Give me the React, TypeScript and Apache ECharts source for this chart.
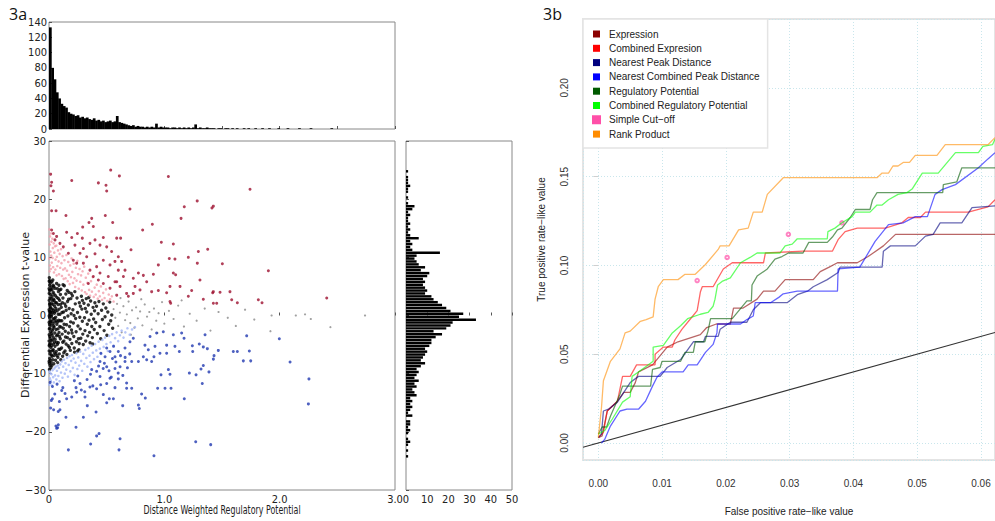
import React, { useEffect, useRef } from "react";
import * as echarts from "echarts";

// ---------- 3a : histograms ----------
const topHistBinWidth = 0.02;
const topHistCounts = [
  133, 80, 65, 48, 40, 33, 30, 28, 22, 20,
  19, 17, 18, 15, 16, 14, 15, 13, 12, 14,
  11, 12, 10, 11, 9, 10, 11, 9, 10, 17,
  9, 8, 7, 6, 5, 4, 5, 3, 4, 3,
  3, 2, 3, 2, 3, 2, 7, 2, 3, 2,
  2, 2, 1, 2, 2, 1, 2, 1, 2, 1,
  2, 1, 2, 6, 1, 2, 1, 1, 2, 1,
  1, 1, 0, 1, 1, 0, 1, 1, 0, 1,
  0, 1, 0, 0, 1, 0, 1, 0, 0, 1,
  0, 0, 1, 0, 0, 1, 0, 0, 0, 1,
  0, 0, 0, 1, 0, 0, 0, 0, 1, 0,
  0, 0, 0, 1, 0, 0, 0, 0, 0, 0,
  0, 0, 1, 0, 0, 0, 0, 0, 0, 0,
];
const rightHistStart = -25;
const rightHistBinWidth = 0.5;
const rightHistCounts = [
  0, 1, 0, 1, 0, 1, 2, 1, 0, 1,
  2, 1, 2, 2, 0, 3, 1, 2, 3, 2,
  3, 2, 5, 4, 3, 5, 4, 6, 4, 5,
  6, 5, 7, 9, 7, 8, 9, 10, 9, 11,
  12, 12, 14, 17, 13, 19, 21, 22, 33, 25,
  27, 21, 19, 17, 15, 13, 12, 9, 10, 9,
  8, 9, 8, 10, 11, 7, 9, 6, 5, 4,
  5, 16, 3, 2, 3, 2, 6, 2, 1, 2,
  1, 2, 1, 1, 2, 1, 3, 4, 1, 0,
  1, 0, 1, 1, 2, 1, 1, 1, 0, 1,
];

// ---------- 3a : scatter ----------
const scatterBlack = [
  [0.003,6.5],[0.006,5.2],[0.002,3.8],[0.008,2.1],[0.004,0.7],[0.011,-0.9],[0.003,-2.3],[0.007,-3.6],[0.012,-4.8],[0.002,-6.1],
  [0.006,-7.4],[0.009,-8.6],[0.004,-9.3],[0.015,4.4],[0.018,2.9],[0.014,1.3],[0.02,-0.2],[0.017,-1.7],[0.022,-3.1],[0.016,-5.5],
  [0.021,-6.8],[0.019,-8.1],[0.025,5.8],[0.027,3.3],[0.024,0.1],[0.029,-2.6],[0.031,-4.2],[0.026,-7.0],[0.033,6.1],[0.036,4.0],
  [0.034,1.9],[0.038,-0.6],[0.035,-1.4],[0.04,-3.8],[0.037,-5.9],[0.042,-8.3],[0.045,2.6],[0.047,0.4],[0.044,-2.0],[0.048,-4.6],
  [0.046,-6.4],[0.01,1.5],[0.013,-2.8],[0.028,1.1],[0.039,2.8],[0.05,-1.1],[0.005,-0.4],[0.02,4.9],[0.032,-6.0],[0.041,5.0],
  [0.052,4.7],[0.055,2.2],[0.058,-0.3],[0.061,-2.4],[0.054,-4.1],[0.063,-6.2],[0.057,-7.7],[0.066,5.5],[0.069,3.1],[0.071,0.8],
  [0.068,-1.5],[0.074,-3.3],[0.072,-5.0],[0.077,-7.2],[0.079,1.9],[0.082,4.1],[0.084,-0.8],[0.087,-2.9],[0.081,-4.7],[0.089,-6.6],
  [0.092,2.6],[0.095,0.2],[0.093,-1.9],[0.098,-4.0],[0.096,-5.8],[0.06,1.2],[0.075,-8.1],[0.086,5.2],[0.099,3.6],[0.065,-3.5],
  [0.103,4.5],[0.107,1.4],[0.111,-0.9],[0.114,-3.2],[0.109,-5.6],[0.118,-7.0],[0.121,3.0],[0.126,0.6],[0.124,-2.2],[0.129,-4.4],
  [0.133,5.1],[0.137,2.0],[0.135,-0.4],[0.141,-2.7],[0.139,-6.1],[0.146,3.7],[0.149,0.9],[0.152,-1.6],[0.148,-4.9],[0.155,-6.7],
  [0.161,2.4],[0.164,-0.1],[0.168,-3.0],[0.166,-5.2],[0.172,4.0],[0.175,1.2],[0.178,-1.9],[0.182,-4.1],[0.185,-6.0],[0.189,2.9],
  [0.192,0.3],[0.195,-2.5],[0.198,-4.8],[0.116,2.2],[0.143,-3.7],[0.158,4.3],[0.177,-5.5],[0.193,3.8],[0.128,-6.4],[0.102,-7.6],
  [0.203,3.4],[0.207,1.0],[0.211,-1.3],[0.215,-3.6],[0.219,-5.6],[0.224,4.1],[0.228,2.0],[0.231,-0.5],[0.235,-2.8],[0.238,-4.5],
  [0.243,3.0],[0.247,0.5],[0.251,-1.8],[0.255,-4.0],[0.259,-5.9],[0.263,2.2],[0.267,-0.3],[0.271,-2.3],[0.276,-3.9],[0.281,3.3],
  [0.285,1.1],[0.289,-1.0],[0.293,-3.2],[0.297,-5.0],[0.222,-6.3],[0.249,-6.1],[0.272,1.6],[0.29,2.6],[0.217,0.0],[0.262,-4.8],
  [0.303,2.1],[0.308,-0.4],[0.312,-2.6],[0.318,-4.4],[0.323,2.9],[0.327,0.6],[0.332,-1.5],[0.336,-3.5],[0.341,1.8],[0.347,-0.8],
  [0.352,-2.9],[0.356,-4.7],[0.361,2.5],[0.366,0.2],[0.371,-1.9],[0.376,-3.8],[0.382,1.4],[0.387,-0.6],[0.392,-2.4],[0.398,2.2],
  [0.315,1.2],[0.345,3.1],[0.379,-4.9],[0.395,0.8],
  [0.405,-1.2],[0.412,1.6],[0.419,-3.1],[0.426,0.3],[0.433,2.4],[0.441,-1.9],[0.448,-4.0],[0.456,0.9],[0.463,-0.7],[0.471,2.0],
  [0.478,-2.6],[0.486,-0.2],[0.493,1.3],[0.502,-3.4],[0.51,0.6],[0.518,-1.5],[0.527,2.3],[0.535,-0.9],[0.544,0.1],[0.552,-2.2],
  [0.001,4.6],[0.001,1.0],[0.001,-1.2],[0.001,-4.4],[0.001,-7.9],[0.002,5.9],[0.002,2.6],[0.002,-0.1],[0.002,-3.3],[0.002,-5.2],
  [0.003,-8.2],[0.005,4.3],[0.005,1.9],[0.005,-1.6],[0.005,-5.0],[0.007,6.0],[0.007,0.2],[0.008,-2.2],[0.008,-6.6],[0.009,3.0],
  [0.01,-3.9],[0.011,5.6],[0.011,-7.7],[0.012,0.6],[0.013,3.6],[0.014,-1.2],[0.015,-6.2],[0.016,-9.0],[0.018,0.6],[0.018,-4.3],
  [0.021,2.0],[0.023,-1.0],[0.023,-5.2],[0.025,-8.6],[0.027,4.5],[0.028,-3.4],[0.03,0.5],[0.031,2.5],[0.033,-7.6],[0.034,-2.3],
  [0.036,5.2],[0.038,-4.9],[0.039,0.9],[0.041,-1.8],[0.043,3.7],[0.044,-6.9],[0.046,-0.5],[0.049,1.6],[0.05,-3.0],[0.052,-5.3],
  [0.053,0.7],[0.056,3.4],[0.059,-6.6],[0.062,-0.9],[0.064,2.2],[0.067,-4.6],[0.07,-6.9],[0.073,4.6],[0.076,-1.1],[0.078,-2.3],
  [0.08,0.2],[0.083,2.9],[0.085,-5.8],[0.088,1.1],[0.091,-3.6],[0.094,4.4],[0.097,-0.9],[0.1,1.9],[0.105,-2.0],[0.113,0.5],
  [0.119,-4.6],[0.122,5.3],[0.131,-1.5],[0.145,1.6],[0.16,-3.8],[0.17,2.8],[0.188,-1.1],[0.2,-3.0],
];
const scatterGray = [
  [0.56,1.1],[0.575,-0.4],[0.59,2.0],[0.6,-1.8],[0.615,0.5],[0.63,-2.9],[0.645,1.6],[0.66,-0.8],[0.675,0.2],[0.69,2.4],
  [0.705,-1.3],[0.72,0.9],[0.74,-2.1],[0.755,1.4],[0.77,-0.5],[0.79,0.7],[0.81,-1.7],[0.83,1.9],[0.85,-0.2],[0.87,0.6],
  [0.89,-2.4],[0.91,1.2],[0.93,-0.9],[0.95,0.4],[0.98,2.3],[1.0,-1.4],[0.62,3.0],[0.71,-3.3],[0.8,2.8],[0.94,-3.0],
  [1.04,0.8],[1.08,-0.6],[1.12,1.7],[1.17,-1.9],[1.22,0.3],[1.28,-0.9],[1.35,1.2],[1.4,-2.6],[1.47,0.6],[1.55,-0.4],
  [1.62,-1.8],[1.7,1.0],[1.78,-0.7],[1.93,0.0],[2.14,0.0],[2.22,0.2],[2.27,-0.6],[2.44,-2.0],[2.74,0.0],[1.92,-2.7],[1.15,2.6],
];
const scatterPink = [
  [0.004,14.8],[0.009,13.6],[0.006,12.2],[0.012,11.0],[0.003,9.8],[0.008,8.6],[0.005,7.6],[0.017,14.1],[0.021,12.7],[0.019,10.3],
  [0.024,9.1],[0.016,8.0],[0.029,13.2],[0.033,11.6],[0.031,9.9],[0.036,8.3],[0.041,12.4],[0.046,10.8],[0.043,7.4],[0.052,11.9],
  [0.057,9.6],[0.055,7.9],[0.063,12.0],[0.068,10.1],[0.072,8.5],[0.066,6.9],[0.078,11.2],[0.083,9.3],[0.087,7.1],[0.092,10.6],
  [0.097,8.2],[0.104,11.4],[0.108,9.0],[0.112,6.8],[0.118,10.2],[0.123,7.9],[0.127,6.3],[0.134,9.5],[0.139,8.1],[0.144,6.4],
  [0.151,10.4],[0.156,7.7],[0.162,5.9],[0.167,9.2],[0.173,7.0],[0.179,5.4],[0.184,8.6],[0.19,6.6],[0.196,9.8],[0.202,7.5],
  [0.208,5.6],[0.214,8.9],[0.221,6.4],[0.227,4.9],[0.233,8.2],[0.239,6.0],[0.246,9.4],[0.252,7.1],[0.258,4.6],[0.265,8.0],
  [0.271,5.8],[0.278,6.9],[0.284,4.3],[0.291,7.6],[0.298,5.3],[0.305,8.4],[0.312,4.0],[0.319,6.5],[0.326,3.7],[0.333,5.6],
  [0.34,7.2],[0.348,4.4],[0.356,3.4],[0.364,5.9],[0.372,4.1],[0.38,6.6],[0.388,3.2],[0.396,4.8],[0.405,3.6],[0.414,5.3],
  [0.423,2.9],[0.432,4.2],[0.441,3.3],[0.45,5.0],[0.46,2.7],[0.47,3.9],[0.482,3.0],[0.494,4.5],[0.506,2.5],[0.518,3.6],
  [0.53,2.8],[0.545,3.3],[0.56,2.4],
];
const scatterDarkRed = [
  [0.014,24.3],[0.023,22.9],[0.017,22.3],[0.038,21.4],[0.023,18.0],[0.061,18.0],[0.197,23.2],[0.428,22.8],[0.494,22.4],[0.5,21.4],
  [0.535,25.0],[0.61,24.0],[1.035,23.9],[1.743,21.7],[0.147,17.2],[0.488,17.2],[0.702,18.3],[1.285,19.7],[1.173,18.7],[1.413,18.5],
  [1.425,18.8],[1.145,16.7],[0.37,16.7],[0.347,16.0],[0.552,16.0],[0.292,15.2],[0.384,15.3],[0.812,14.7],[0.896,15.7],[0.471,13.4],
  [0.587,13.3],[0.621,13.3],[0.153,14.3],[0.197,13.4],[0.246,14.1],[0.289,13.3],[0.399,13.0],[0.974,12.6],[1.078,12.3],[0.711,11.3],
  [1.376,11.4],[1.295,11.0],[1.208,10.0],[1.043,9.8],[1.092,9.7],[1.286,9.0],[1.503,8.9],[0.948,8.7],[1.902,7.7],[1.078,7.3],
  [1.098,7.0],[0.818,6.9],[0.905,7.1],[1.309,6.1],[1.136,5.0],[1.237,4.3],[1.049,5.0],[1.02,3.9],[0.948,4.3],[0.89,4.1],
  [1.419,3.9],[1.425,4.1],[1.483,4.0],[1.569,4.1],[1.584,2.7],[1.633,2.2],[1.815,2.7],[1.847,2.2],[2.408,3.0],[1.208,3.3],
  [1.338,2.8],[1.425,2.1],[1.454,2.1],[1.049,2.4],[1.055,2.1],
  [0.269,10.7],[0.327,10.1],[0.211,9.5],[0.298,9.0],[0.355,7.8],[0.413,8.4],[0.442,7.3],[0.529,8.7],[0.572,9.3],[0.601,10.1],
  [0.63,9.3],[0.659,7.8],[0.587,5.8],[0.616,5.0],[0.673,3.8],[0.731,3.8],[0.746,5.0],[0.789,4.4],[0.514,6.7],[0.471,5.5],
  [0.428,6.1],[0.384,6.7],[0.341,5.5],[0.543,11.0],[0.5,11.8],[0.442,12.1],[0.355,12.4],[0.225,12.1],[0.124,11.8],[0.095,12.4],
  [0.066,13.6],[0.038,14.1],[0.023,14.7],[0.052,13.0],[0.587,3.5],[0.688,3.3],[0.775,7.3],[0.847,5.8],[0.731,6.4],[0.645,6.7],
  [0.24,9.0],[0.168,10.7],[0.298,11.5],[0.399,10.6],[0.471,9.5],[0.572,5.8],[0.529,4.7],[0.601,7.8],
];
const scatterLightBlue = [
  [0.004,-9.6],[0.008,-10.8],[0.003,-11.9],[0.012,-9.9],[0.016,-11.2],[0.021,-10.1],[0.026,-12.0],[0.031,-9.4],[0.036,-10.6],[0.042,-11.5],
  [0.047,-9.1],[0.053,-10.3],[0.058,-8.8],[0.064,-11.0],[0.069,-9.5],[0.075,-8.6],[0.081,-10.4],[0.086,-9.0],[0.092,-11.3],[0.098,-8.4],
  [0.104,-9.8],[0.11,-7.9],[0.117,-10.7],[0.123,-8.8],[0.13,-7.6],[0.137,-10.0],[0.143,-8.2],[0.15,-9.3],[0.157,-7.3],[0.164,-10.5],
  [0.171,-8.5],[0.178,-7.0],[0.185,-9.6],[0.192,-7.8],[0.199,-6.8],[0.207,-9.0],[0.214,-7.4],[0.222,-10.2],[0.23,-8.1],[0.238,-6.5],
  [0.246,-9.2],[0.254,-7.2],[0.262,-8.6],[0.27,-6.2],[0.279,-7.8],[0.288,-9.5],[0.297,-6.6],[0.306,-8.3],[0.315,-5.9],[0.324,-7.3],
  [0.333,-8.8],[0.342,-5.6],[0.351,-6.9],[0.36,-8.0],[0.37,-5.2],[0.38,-6.4],[0.39,-7.5],[0.4,-4.9],[0.41,-6.0],[0.42,-7.1],
  [0.43,-4.5],[0.441,-5.7],[0.452,-6.6],[0.463,-4.2],[0.474,-5.4],[0.486,-3.8],[0.498,-4.9],[0.51,-6.1],[0.522,-3.5],[0.534,-4.6],
  [0.547,-3.2],[0.56,-5.2],[0.573,-3.9],[0.586,-2.9],[0.6,-4.4],[0.615,-3.4],[0.63,-2.6],[0.646,-3.8],[0.662,-2.9],[0.68,-2.2],
  [0.7,-3.3],[0.72,-2.4],[0.745,-2.0],
];
const scatterDarkBlue = [
  [1.714,-3.5],[1.997,-4.0],[2.09,-8.0],[2.254,-10.9],[2.249,-15.2],[1.749,-7.8],[1.685,-7.8],[1.598,-6.2],[1.633,-6.2],[1.737,-6.1],
  [1.468,-6.0],[1.373,-5.7],[1.338,-5.4],[1.303,-4.9],[1.243,-5.2],[1.246,-6.2],[1.425,-7.5],[1.431,-6.9],[1.338,-8.6],[1.318,-9.2],
  [1.387,-9.7],[1.329,-11.7],[1.275,-10.2],[1.217,-9.9],[1.173,-14.3],[1.058,-12.5],[1.006,-12.5],[0.942,-12.5],[0.971,-10.2],[1.035,-9.3],
  [1.049,-10.1],[1.272,-21.7],[1.402,-22.2],[0.91,-24.1],[0.607,-23.1],[0.616,-21.2],[0.361,-22.1],[0.413,-20.7],[0.434,-20.3],[0.234,-19.2],
  [0.168,-23.1],[0.066,-19.4],[0.081,-18.8],[0.147,-17.5],[0.298,-17.5],[0.408,-16.6],[0.775,-15.4],[0.783,-16.0],[0.835,-14.2],[0.803,-13.5],
  [0.639,-15.5],[0.5,-15.0],[0.523,-14.3],[0.558,-14.3],[0.471,-13.6],[0.332,-15.5],[0.312,-14.0],[0.197,-14.0],[0.153,-14.3],[0.029,-14.3],
  [0.014,-15.9],[0.095,-16.2],[0.11,-12.9],[0.139,-13.4],[0.234,-12.4],[0.269,-11.7],[0.355,-12.3],[0.413,-12.6],[0.448,-11.9],[0.5,-11.7],
  [0.572,-12.4],[0.673,-12.5],[0.717,-12.5],[0.673,-11.6],[0.601,-10.9],[0.529,-10.8],[0.442,-10.5],[0.413,-9.6],[0.37,-9.3],[0.5,-8.8],
  [0.572,-9.1],[0.616,-8.8],[0.659,-7.9],[0.717,-7.9],[0.775,-7.9],[0.818,-7.1],[0.847,-7.6],[0.89,-7.9],[0.91,-7.1],[0.962,-6.5],
  [1.02,-6.5],[0.861,-5.9],[0.832,-5.1],[0.919,-5.3],[1.02,-5.1],[1.092,-5.3],[1.13,-6.2],[1.171,-3.9],[1.078,-3.3],[0.991,-2.8],
  [0.933,-3.0],[0.876,-3.6],[1.15,-3.0],[1.353,-3.3],[0.731,-3.9],[0.702,-4.5],[0.659,-5.6],[0.601,-6.2],[0.572,-7.1],[0.529,-6.2],
  [0.486,-7.1],[0.442,-7.9],[0.45,-6.5],[0.48,-8.2],[0.52,-9.5],[0.55,-7.4],[0.58,-8.0],[0.6,-9.9],[0.62,-6.9],[0.64,-10.3],
  [0.66,-7.2],[0.5,-5.6],[0.54,-10.6],[0.47,-9.1],[0.43,-8.7],[0.56,-5.3],[0.68,-9.0],[0.7,-6.6],[0.22,-11.2],[0.25,-10.4],
  [0.28,-12.8],[0.33,-11.0],[0.36,-10.1],[0.38,-12.1],[0.31,-13.1],[0.24,-13.2],[0.01,-11.5],[0.03,-12.2],[0.05,-13.5],[0.02,-14.6],
  [0.07,-11.8],[0.09,-14.8],[0.12,-12.4],[0.04,-16.2],[0.08,-16.5],[0.06,-19.0],[0.075,-19.3],
];

// ---------- 3b : ROC-like curves ----------
const seriesNames = [
  "Expression", "Combined Expresion", "Nearest Peak Distance", "Nearest Combined Peak Distance",
  "Regulatory Potential", "Combined Regulatory Potential", "Simple Cut\u2212off", "Rank Product",
];
const seriesColors = ["#8B0000", "#FF0000", "#00007F", "#0000FF", "#005A00", "#00FF00", "#FF4FA8", "#FF8C00"];

const expression = [
  [0,0.003],[0.0006,0.004],[0.0014,0.018],[0.003,0.0235],[0.004,0.0285],[0.005,0.0285],[0.0058,0.034],[0.0063,0.04],[0.0085,0.044],[0.0108,0.054],
  [0.0125,0.057],[0.016,0.061],[0.017,0.065],[0.0185,0.067],[0.0207,0.067],[0.0212,0.076],[0.0227,0.076],[0.0249,0.081],[0.0259,0.0855],[0.0277,0.0855],
  [0.0293,0.092],[0.0337,0.092],[0.0348,0.0965],[0.0362,0.099],[0.0375,0.1015],[0.0406,0.1015],[0.0423,0.105],[0.0431,0.107],[0.0447,0.111],[0.0466,0.1175],
  [0.0622,0.1175],
];
const combinedExpression = [
  [0,0.003],[0.0008,0.006],[0.0014,0.018],[0.003,0.0235],[0.0038,0.0375],[0.005,0.0375],[0.006,0.044],[0.0089,0.044],[0.0089,0.05],[0.0102,0.054],
  [0.0116,0.054],[0.012,0.058],[0.0131,0.064],[0.0144,0.0697],[0.0155,0.0745],[0.016,0.085],[0.0163,0.088],[0.018,0.088],[0.0196,0.098],[0.021,0.1015],
  [0.0259,0.1015],[0.0262,0.107],[0.0321,0.108],[0.0367,0.108],[0.0376,0.1145],[0.0387,0.119],[0.0406,0.121],[0.045,0.121],[0.0476,0.124],[0.0486,0.127],
  [0.0505,0.127],[0.0513,0.13],[0.058,0.13],[0.0611,0.133],[0.0622,0.137],
];
const nearestPeak = [
  [0,0.003],[0.0005,0.005],[0.0008,0.018],[0.0016,0.019],[0.003,0.023],[0.004,0.0285],[0.005,0.034],[0.0063,0.0375],[0.0097,0.0375],[0.0108,0.0425],
  [0.0129,0.047],[0.0149,0.057],[0.0165,0.057],[0.0168,0.06],[0.0188,0.06],[0.0191,0.064],[0.0207,0.068],[0.0233,0.068],[0.0243,0.075],[0.0254,0.079],
  [0.0296,0.079],[0.0312,0.0835],[0.0328,0.0855],[0.0337,0.088],[0.0359,0.092],[0.0376,0.096],[0.0379,0.099],[0.0445,0.099],[0.0447,0.108],[0.0458,0.111],
  [0.0497,0.111],[0.0513,0.1165],[0.0525,0.1175],[0.0536,0.124],[0.057,0.124],[0.0586,0.1325],[0.0622,0.1335],
];
const nearestCombinedPeak = [
  [0.0005,0],[0.001,0.002],[0.0019,0.0095],[0.0034,0.018],[0.0045,0.019],[0.0063,0.019],[0.0074,0.0235],[0.0085,0.032],[0.0092,0.037],[0.01,0.04],
  [0.0133,0.04],[0.0141,0.044],[0.0155,0.044],[0.0168,0.051],[0.018,0.0555],[0.0186,0.062],[0.0187,0.067],[0.0223,0.067],[0.0233,0.0695],[0.0243,0.0715],
  [0.0246,0.079],[0.027,0.079],[0.0283,0.082],[0.029,0.084],[0.0312,0.0855],[0.0375,0.0855],[0.0376,0.098],[0.041,0.099],[0.0434,0.1135],[0.0445,0.1185],
  [0.0455,0.123],[0.0478,0.124],[0.0497,0.1275],[0.0516,0.1275],[0.0528,0.14],[0.0539,0.1427],[0.056,0.1455],[0.0596,0.155],[0.0611,0.16],[0.0622,0.1635],
];
const regulatoryPotential = [
  [0,0.005],[0.0006,0.009],[0.0013,0.009],[0.0019,0.015],[0.0034,0.0275],[0.0038,0.032],[0.0082,0.032],[0.0085,0.0415],[0.0097,0.0425],[0.01,0.046],
  [0.0129,0.046],[0.0136,0.051],[0.0149,0.051],[0.0152,0.057],[0.0167,0.057],[0.0172,0.063],[0.0176,0.07],[0.021,0.07],[0.0233,0.08],[0.024,0.08],
  [0.0241,0.089],[0.0249,0.094],[0.0265,0.098],[0.0277,0.1035],[0.0288,0.105],[0.0298,0.107],[0.0321,0.107],[0.033,0.113],[0.0359,0.113],[0.0367,0.116],
  [0.0375,0.12],[0.0382,0.121],[0.0395,0.127],[0.0403,0.1315],[0.0426,0.1315],[0.043,0.137],[0.0437,0.141],[0.054,0.141],[0.0541,0.1455],[0.0562,0.147],
  [0.057,0.155],[0.0622,0.155],
];
const combinedRegulatoryPotential = [
  [0,0.005],[0.001,0.007],[0.0022,0.0135],[0.0038,0.023],[0.005,0.026],[0.0053,0.0375],[0.0063,0.04],[0.0086,0.046],[0.0086,0.054],[0.0102,0.055],
  [0.0116,0.062],[0.0129,0.066],[0.014,0.07],[0.016,0.0725],[0.0172,0.0735],[0.018,0.077],[0.0183,0.081],[0.0187,0.089],[0.0194,0.091],[0.0207,0.093],
  [0.0223,0.1015],[0.0238,0.1045],[0.0249,0.107],[0.0285,0.107],[0.0293,0.111],[0.0304,0.112],[0.0312,0.115],[0.0359,0.115],[0.036,0.119],[0.0371,0.121],
  [0.0382,0.124],[0.0398,0.1275],[0.0403,0.13],[0.0426,0.13],[0.0437,0.134],[0.0445,0.134],[0.0455,0.137],[0.047,0.14],[0.0484,0.141],[0.0492,0.143],
  [0.0508,0.152],[0.0533,0.152],[0.056,0.1635],[0.0596,0.1635],[0.0603,0.167],[0.0618,0.168],[0.0622,0.171],
];
const simpleCutoffX = [0.0155, 0.0202, 0.0298, 0.0382];
const simpleCutoffY = [0.0915, 0.1045, 0.1175, 0.124];
const rankProduct = [
  [0,0.003],[0.0005,0.02],[0.0008,0.035],[0.0019,0.046],[0.0034,0.053],[0.0042,0.062],[0.005,0.063],[0.0066,0.0685],[0.0075,0.0695],[0.0086,0.071],
  [0.0089,0.081],[0.0094,0.088],[0.0102,0.092],[0.0125,0.092],[0.0136,0.095],[0.0152,0.095],[0.0168,0.1005],[0.0188,0.109],[0.0191,0.111],[0.0205,0.111],
  [0.022,0.12],[0.0235,0.121],[0.0243,0.13],[0.0257,0.13],[0.0265,0.14],[0.029,0.1494],[0.0437,0.1494],[0.0445,0.152],[0.0455,0.152],[0.0462,0.156],
  [0.047,0.156],[0.0478,0.158],[0.0488,0.158],[0.0497,0.162],[0.0531,0.162],[0.0544,0.168],[0.0611,0.168],[0.0622,0.172],
];
const diagonalX = [-0.0024, 0.0622];

const FONT_A = "'DejaVu Sans Condensed','Liberation Sans Narrow','DejaVu Sans',sans-serif";
const FONT_B = "'Liberation Sans',Arial,Helvetica,sans-serif";

const minusFmt = (v: number) => (v < 0 ? "\u2212" + Math.abs(v) : String(v));

export default function App() {
  const ref = useRef<HTMLDivElement>(null);
  useEffect(() => {
    if (!ref.current) return;
    const chart = echarts.init(ref.current, null, { renderer: "svg" });

    const topData = topHistCounts
      .map((c, i) => [i * topHistBinWidth, (i + 1) * topHistBinWidth, c])
      .filter((d) => d[2] > 0);
    const rightData = rightHistCounts
      .map((c, i) => [rightHistStart + i * rightHistBinWidth, rightHistStart + (i + 1) * rightHistBinWidth, c])
      .filter((d) => d[2] > 0);

    const tickA = { show: true, inside: true, length: 3, lineStyle: { color: "#555" } };
    const labelA = { fontFamily: FONT_A, fontSize: 11, color: "#222" };

    const lineSeries = (name: string, data: number[][], color: string, z = 3) => ({
      type: "line", name, data, xAxisIndex: 3, yAxisIndex: 3,
      showSymbol: false, symbol: "none", silent: true, z,
      itemStyle: { color },
      lineStyle: { color, width: 1.3, opacity: 0.6 },
    });

    chart.setOption({
      animation: false,
      backgroundColor: "#fff",
      grid: [
        { left: 49, top: 22, width: 346, height: 107, show: true, borderColor: "#888", borderWidth: 1 },
        { left: 49, top: 141, width: 346, height: 349, show: true, borderColor: "#888", borderWidth: 1 },
        { left: 406, top: 141, width: 106, height: 349, show: true, borderColor: "#888", borderWidth: 1 },
        { left: 583, top: 19, width: 412, height: 442, show: true, borderColor: "#e4e4e4", borderWidth: 2 },
      ],
      xAxis: [
        { gridIndex: 0, type: "value", min: 0, max: 3, interval: 0.5, axisLabel: { show: false }, axisTick: tickA, axisLine: { show: false }, splitLine: { show: false } },
        { gridIndex: 1, type: "value", min: 0, max: 3, interval: 1, axisTick: tickA, axisLine: { show: false }, splitLine: { show: false },
          axisLabel: { ...labelA, margin: 4, formatter: (v: number) => (v === 0 ? "0" : v.toFixed(1)) } },
        { gridIndex: 2, type: "value", min: 0, max: 50, interval: 10, axisTick: tickA, axisLine: { show: false }, splitLine: { show: false },
          axisLabel: { ...labelA, margin: 4 } },
        { gridIndex: 3, type: "value", min: -0.0024, max: 0.0622, minInterval: 0.01, maxInterval: 0.01,
          axisLine: { show: false }, axisTick: { show: false },
          splitLine: { show: true, lineStyle: { color: "#c9e6ec", type: [1, 2], width: 1 } },
          axisLabel: { fontFamily: FONT_B, fontSize: 10, color: "#333", margin: 18, showMinLabel: false, showMaxLabel: false,
            formatter: (v: number) => v.toFixed(2) },
          name: "False positive rate\u2212like value", nameLocation: "middle", nameGap: 46,
          nameTextStyle: { fontFamily: FONT_B, fontSize: 10, color: "#222" } },
      ],
      yAxis: [
        { gridIndex: 0, type: "value", min: 0, max: 140, interval: 20, axisTick: tickA, axisLine: { show: false }, splitLine: { show: false },
          axisLabel: { ...labelA, margin: 2 } },
        { gridIndex: 1, type: "value", min: -30, max: 30, interval: 10, axisTick: tickA, axisLine: { show: false }, splitLine: { show: false },
          axisLabel: { ...labelA, margin: 3, formatter: minusFmt } },
        { gridIndex: 2, type: "value", min: -30, max: 30, interval: 10, axisTick: tickA, axisLine: { show: false }, splitLine: { show: false },
          axisLabel: { show: false } },
        { gridIndex: 3, type: "value", min: -0.0096, max: 0.2388, minInterval: 0.05, maxInterval: 0.05,
          axisLine: { show: false },
          axisTick: { show: true, inside: false, length: 5, lineStyle: { color: "#cfcfcf" } },
          splitLine: { show: true, lineStyle: { color: "#c9e6ec", type: [1, 2], width: 1 } },
          axisLabel: { fontFamily: FONT_B, fontSize: 10, color: "#333", rotate: 90, margin: 14, showMinLabel: false, showMaxLabel: false,
            formatter: (v: number) => v.toFixed(2) },
          name: "True positive rate\u2212like value", nameLocation: "middle", nameGap: 37,
          nameTextStyle: { fontFamily: FONT_B, fontSize: 10, color: "#222" } },
      ],
      legend: {
        left: 583, top: 19, orient: "vertical", itemWidth: 7, itemHeight: 7, itemGap: 0.3,
        padding: [8, 8, 7, 9], backgroundColor: "#fff", borderColor: "#e4e4e4", borderWidth: 1.5,
        textStyle: { fontFamily: FONT_B, fontSize: 10, color: "#222", lineHeight: 14, padding: [0, 0, 0, 4] },
        selectedMode: false,
        data: seriesNames.map((n, i) => ({ name: n, icon: "rect", itemStyle: { color: seriesColors[i], opacity: 1 } })),
      },
      graphic: [
        { type: "text", left: 9, top: 6, style: { text: "3a", font: "16px 'Open Sans', sans-serif", fill: "#111" } },
        { type: "text", left: 543, top: 6, style: { text: "3b", font: "16px 'Open Sans', sans-serif", fill: "#111" } },
        { type: "text", x: 222, y: 510, scaleX: 0.66, style: { text: "Distance Weighted Regulatory Potential", font: "12px 'DejaVu Sans', sans-serif", fill: "#222", align: "center", verticalAlign: "middle" } },
        { type: "text", x: 25, y: 315, rotation: Math.PI / 2, style: { text: "Differential Expression t-value", font: "11px 'DejaVu Sans', sans-serif", fill: "#222", align: "center", verticalAlign: "middle" } },
      ],
      series: [
        { type: "custom", xAxisIndex: 0, yAxisIndex: 0, silent: true, data: topData,
          renderItem: (_p: any, api: any) => {
            const a = api.coord([api.value(0), 0]);
            const b = api.coord([api.value(1), api.value(2)]);
            return { type: "rect", shape: { x: a[0], y: b[1], width: b[0] - a[0] + 0.4, height: a[1] - b[1] }, style: { fill: "#000" } };
          } },
        { type: "custom", xAxisIndex: 2, yAxisIndex: 2, silent: true, data: rightData,
          renderItem: (_p: any, api: any) => {
            const a = api.coord([0, api.value(0)]);
            const b = api.coord([api.value(2), api.value(1)]);
            const h = (a[1] - b[1]) * 0.85;
            return { type: "rect", shape: { x: a[0], y: b[1], width: b[0] - a[0], height: h }, style: { fill: "#000" } };
          } },
        { type: "scatter", xAxisIndex: 1, yAxisIndex: 1, silent: true, data: scatterGray, symbolSize: 2.2, itemStyle: { color: "#8a8a8a" } },
        { type: "scatter", xAxisIndex: 1, yAxisIndex: 1, silent: true, data: scatterBlack, symbolSize: 3.4, itemStyle: { color: "#000" } },
        { type: "scatter", xAxisIndex: 1, yAxisIndex: 1, silent: true, data: scatterPink, symbolSize: 2.6, itemStyle: { color: "#f2a0ac" } },
        { type: "scatter", xAxisIndex: 1, yAxisIndex: 1, silent: true, data: scatterLightBlue, symbolSize: 2.6, itemStyle: { color: "#a4b6f6" } },
        { type: "scatter", xAxisIndex: 1, yAxisIndex: 1, silent: true, data: scatterDarkRed, symbolSize: 3, itemStyle: { color: "#9e1030" } },
        { type: "scatter", xAxisIndex: 1, yAxisIndex: 1, silent: true, data: scatterDarkBlue, symbolSize: 3, itemStyle: { color: "#2038b0" } },
        { type: "line", name: "diagonal", xAxisIndex: 3, yAxisIndex: 3, silent: true, showSymbol: false, symbol: "none",
          data: diagonalX.map((x) => [x, x]), lineStyle: { color: "#333", width: 1.1 }, z: 2 },
        lineSeries(seriesNames[0], expression, seriesColors[0]),
        lineSeries(seriesNames[1], combinedExpression, seriesColors[1]),
        lineSeries(seriesNames[2], nearestPeak, seriesColors[2]),
        lineSeries(seriesNames[3], nearestCombinedPeak, seriesColors[3]),
        lineSeries(seriesNames[4], regulatoryPotential, seriesColors[4]),
        lineSeries(seriesNames[5], combinedRegulatoryPotential, seriesColors[5]),
        { type: "scatter", name: seriesNames[6], xAxisIndex: 3, yAxisIndex: 3, silent: true,
          data: simpleCutoffX.map((x, i) => [x, simpleCutoffY[i]]), symbol: "emptyCircle", symbolSize: 3.5,
          itemStyle: { color: seriesColors[6], borderColor: seriesColors[6], borderWidth: 1, opacity: 0.7 } },
        lineSeries(seriesNames[7], rankProduct, seriesColors[7]),
      ],
    });
    return () => chart.dispose();
  }, []);
  return <div ref={ref} style={{ position: "absolute", left: 0, top: 0, width: 995, height: 521, background: "#fff" }} />;
}
